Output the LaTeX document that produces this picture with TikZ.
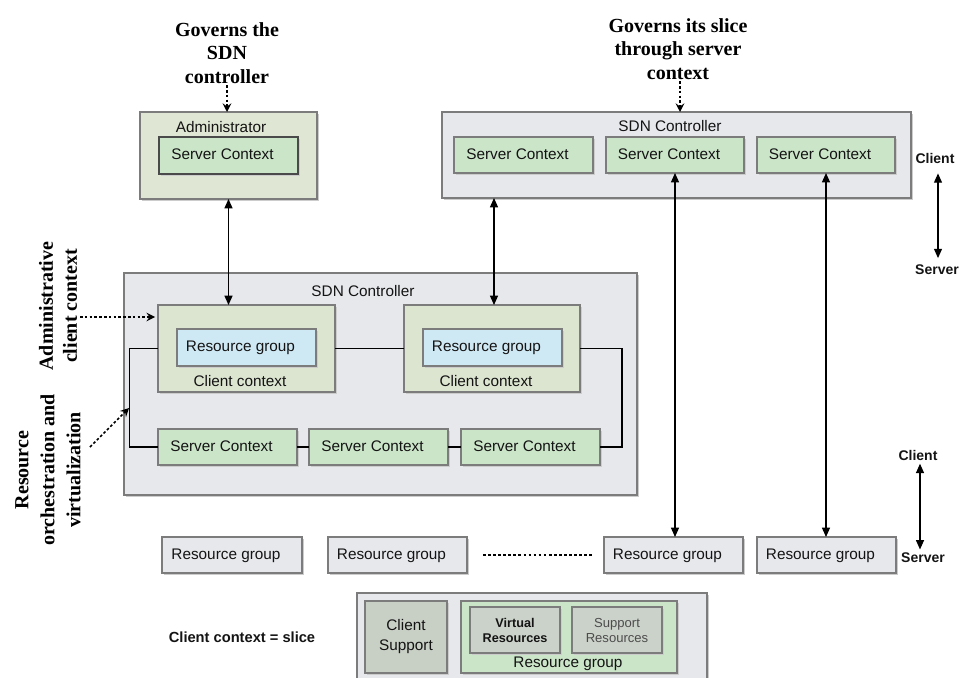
\documentclass[tikz,border=0pt]{standalone}
\usepackage{fontspec}
\setmainfont{Liberation Sans}
\newfontfamily\notefont{Liberation Serif}
\usetikzlibrary{fit,shadows,arrows.meta,calc}

\definecolor{ctrlfill}{HTML}{E7E8EC}
\definecolor{adminfill}{HTML}{DFE6D3}
\definecolor{ccfill}{HTML}{DCE5D0}
\definecolor{scfill}{HTML}{CBE5C8}
\definecolor{rgfill}{HTML}{CFE9F4}
\definecolor{csfill}{HTML}{C8CFC5}
\definecolor{vrfill}{HTML}{CBD2C9}
\definecolor{edge}{HTML}{7C7C7C}
\definecolor{darkedge}{HTML}{4A4A4A}
\definecolor{ink}{HTML}{141414}

\tikzset{
  base/.style={draw=edge, line width=0.8pt, inner sep=0pt, outer sep=0pt,
    drop shadow={shadow xshift=1.4pt, shadow yshift=-1.4pt, fill=black!20, opacity=1}},
  % text placed in the middle of a box, nudged a little to the left
  boxtxt/.style={inner sep=0pt, text=ink, font=\fontsize{11.5}{13.8}\selectfont,
    text height=8.5pt, text depth=2pt, xshift=-4.5pt},
  multitxt/.style={inner sep=0pt, text=ink, align=center, font=\fontsize{11.5}{15}\selectfont},
  ctrlbox/.style={base, fill=ctrlfill},
  adminbox/.style={base, fill=adminfill},
  ccbox/.style={base, fill=ccfill},
  scbox/.style={base, fill=scfill, label={[boxtxt]center:#1}},
  rgbox/.style={base, fill=rgfill, label={[boxtxt]center:#1}},
  rowbox/.style={base, fill=ctrlfill, label={[boxtxt]center:#1}},
  csbox/.style={base, fill=csfill},
  vrbox/.style={base, fill=vrfill},
  lbl/.style={inner sep=0pt, text=ink, font=\fontsize{11.5}{13.8}\selectfont},
  side/.style={inner sep=0pt, text=ink, font=\bfseries\fontsize{10.5}{12.6}\selectfont},
  note/.style={inner sep=1pt, align=center, text=black,
    font=\notefont\bfseries\fontsize{15}{17.6}\selectfont},
  conn/.style={draw=black, line width=0.9pt},
  biarrow/.style={conn, {Triangle[length=7pt,width=6pt]}-{Triangle[length=7pt,width=6pt]}},
  dotarrow/.style={draw=black, line width=1.1pt, dash pattern=on 2pt off 1.6pt,
    -{Stealth[length=6.5pt,width=6.5pt,inset=2.4pt]}},
  dotline/.style={draw=black, line width=0.8pt, dash pattern=on 2pt off 1.8pt}
}

\begin{document}
\begin{tikzpicture}[x=0.75pt, y=-0.75pt]
\useasboundingbox[fill=white] (0,0) rectangle (964,678);

% ---- annotations ----
\node[note] (gov1) at (227,53) {Governs the\\SDN\\controller};
\node[note] (gov2) at (678,49) {Governs its slice\\through server\\context};

\node[note, rotate=90, font=\notefont\bfseries\fontsize{15}{18}\selectfont]
  (admlbl) at (58,306) {Administrative\\client context};
\node[note, rotate=90, font=\notefont\bfseries\fontsize{15}{19.5}\selectfont]
  (orchlbl) at (48,470) {Resource\\orchestration and\\virtualization};

% ---- administrator ----
\node[adminbox, fit={(140,112) (317,199)}] (admin) {};
\node[lbl] (admintitle) at (221,127) {Administrator};
\node[scbox=Server Context, draw=darkedge, fit={(159,137) (298,174)}] (asc) {};

% ---- upper SDN controller ----
\node[ctrlbox, fit={(442,112) (911,198)}] (topctrl) {};
\node[lbl] (toptitle) at (670,126) {SDN Controller};
\node[scbox=Server Context, fit={(454,137) (593,173)}] (tsc1) {};
\node[scbox=Server Context, fit={(606,137) (744,173)}] (tsc2) {};
\node[scbox=Server Context, fit={(757,137) (895,173)}] (tsc3) {};

\node[side] (cl1) at (935,158) {Client};
\node[side] (sv1) at (937,270) {Server};

% ---- lower SDN controller ----
\node[ctrlbox, fit={(124,273) (637,495)}] (mainctrl) {};
\node[lbl] (maintitle) at (363,291) {SDN Controller};

\node[ccbox, fit={(158,305) (335,392)}] (cc1) {};
\node[rgbox=Resource group, fit={(177,329) (316,366)}] (rgA) {};
\node[lbl] (cc1title) at (240,381) {Client context};

\node[ccbox, fit={(404,305) (580,392)}] (cc2) {};
\node[rgbox=Resource group, fit={(423,329) (562,366)}] (rgB) {};
\node[lbl] (cc2title) at (486,381) {Client context};

\node[scbox=Server Context, fit={(158,429) (297,465)}] (sc1) {};
\node[scbox=Server Context, fit={(309,429) (448,465)}] (sc2) {};
\node[scbox=Server Context, fit={(461,429) (600,465)}] (sc3) {};

% ---- resource groups ----
\node[rowbox=Resource group, fit={(162,537) (302,573)}] (rg1) {};
\node[rowbox=Resource group, fit={(328,537) (467,573)}] (rg2) {};
\node[rowbox=Resource group, fit={(604,537) (743,573)}] (rg3) {};
\node[rowbox=Resource group, fit={(757,537) (896,573)}] (rg4) {};

\node[side] (cl2) at (918,455) {Client};
\node[side] (sv2) at (923,558) {Server};

% ---- slice legend ----
\node[side, font=\bfseries\fontsize{11}{13.2}\selectfont] (legend) at (242,637) {Client context = slice};
\node[ctrlbox, fit={(357,593) (707,700)}] (slice) {};
\node[csbox, fit={(365,601) (447,673)},
  label={[multitxt]center:Client\\Support}] (csup) {};
\node[base, fill=scfill, fit={(461,601) (677,673)}] (rgC) {};
\node[lbl] (rgCtitle) at (568,664) {Resource group};
\node[vrbox, fit={(470,607) (560,653)},
  label={[multitxt, font=\bfseries\fontsize{9.5}{11.3}\selectfont, yshift=-0.3pt]center:Virtual\\Resources}] (vres) {};
\node[vrbox, fit={(572,607) (662,653)},
  label={[multitxt, text=black!70, font=\fontsize{9.8}{11.3}\selectfont, yshift=-0.3pt]center:Support\\Resources}] (sres) {};

% ---- connectors ----
\draw[dotarrow] (gov1.south) -- (gov1.south |- admin.north);
\draw[dotarrow] (gov2.south) ++(2,0) coordinate (g2) (g2) -- (g2 |- topctrl.north);

\coordinate (admtail) at (80,317);
\draw[dotarrow, shorten >=2.2pt] (admtail) -- (admtail -| cc1.west);
\coordinate (orchtail) at (90,447);
\coordinate (orchtip) at (129,408);
\draw[dotarrow] (orchtail) -- (orchtip);

\draw[biarrow] (admin.south) -- (admin.south |- cc1.north);
\coordinate (midup) at ($(cc2.north)+(2,0)$);
\draw[biarrow] (midup) -- (midup |- topctrl.south);
\draw[biarrow] (tsc2.south) -- (tsc2.south |- rg3.north);
\draw[biarrow] (tsc3.south) -- (tsc3.south |- rg4.north);

\coordinate (cs1) at ($(cl1.south)+(3,0)$);
\draw[biarrow, shorten <=7.5pt, shorten >=5pt] (cs1) -- (cs1 |- sv1.north);
\coordinate (cs2) at ($(cl2.south)+(2,0)$);
\draw[biarrow, shorten <=2.5pt, shorten >=2.5pt] (cs2) -- (cs2 |- sv2.north);

\draw[conn] (cc1.east) -- (cc2.west);
\draw[conn] (cc1.west) -- ++(-28.5,0) |- (sc1.west);
\draw[conn] (cc2.east) -- ++(42,0) |- (sc3.east);
\draw[conn] (sc1.east) -- (sc2.west);
\draw[conn] (sc2.east) -- (sc3.west);

\draw[dotline, shorten <=12pt, shorten >=8pt] (rg2.east) -- (rg3.west);
\end{tikzpicture}
\end{document}
